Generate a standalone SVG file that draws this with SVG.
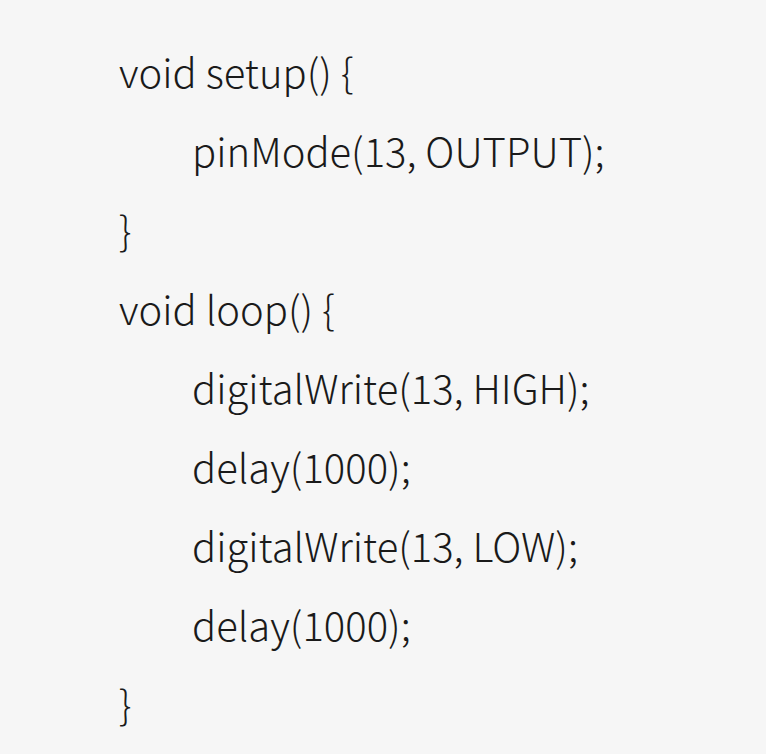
<svg xmlns="http://www.w3.org/2000/svg" width="766" height="754" viewBox="0 0 766 754">
<style>
text{font-family:"Noto Sans CJK SC","Noto Sans",sans-serif;font-weight:300;font-size:40px;fill:#1a1a1a;letter-spacing:0px}
</style>
<rect width="766" height="754" fill="#f6f6f6"/>
<g id="code">
<text x="119" y="88">void setup() {</text>
<text x="192" y="167">pinMode(13, OUTPUT);</text>
<text x="119" y="246">}</text>
<text x="119" y="325">void loop() {</text>
<text x="192" y="404">digitalWrite(13, HIGH);</text>
<text x="192" y="483">delay(1000);</text>
<text x="192" y="562">digitalWrite(13, LOW);</text>
<text x="192" y="641">delay(1000);</text>
<text x="119" y="720">}</text>
</g>
</svg>
